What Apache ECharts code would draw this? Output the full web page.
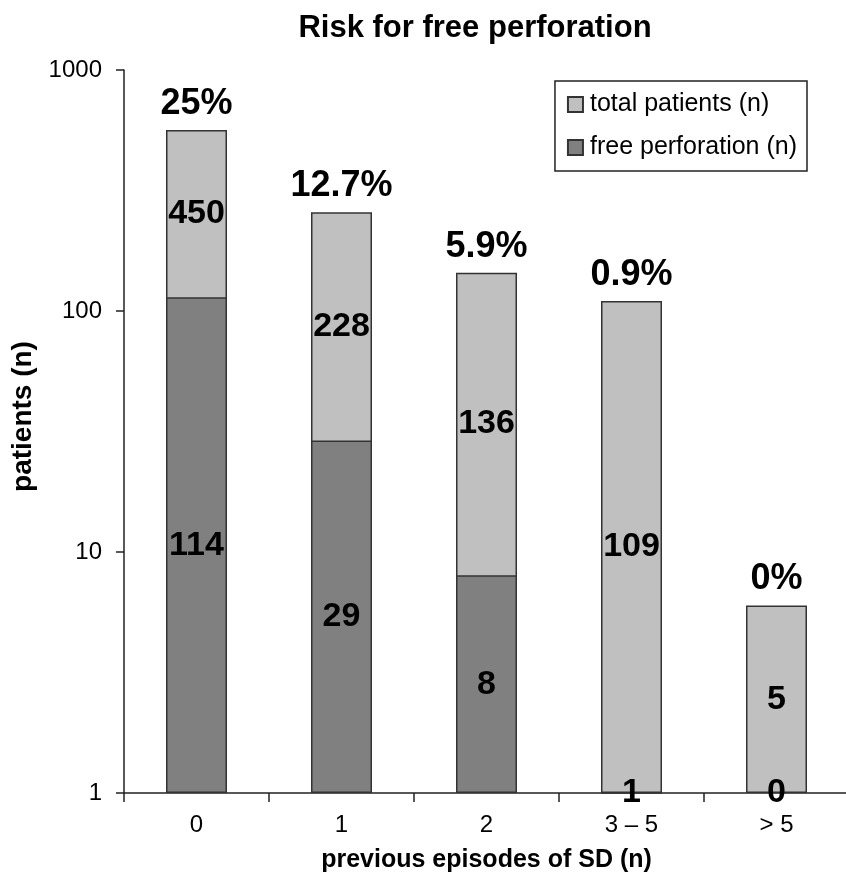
<!DOCTYPE html>
<html>
<head>
<meta charset="utf-8">
<script src="https://cdn.jsdelivr.net/npm/echarts@6/dist/echarts.min.js"></script>
<style>
html,body{margin:0;padding:0;background:#fff;}
#chart{width:846px;height:874px;}
</style>
</head>
<body>
<div id="chart"></div>
<script>
var categories = ['0', '1', '2', '3 – 5', '> 5'];
var totalPatients = [564, 257, 144, 110, 6];
var freePerforation = [114, 29, 8, 1, 0];
var nonPerforatedLabels = ['450', '228', '136', '109', '5'];
var perforatedLabels = ['114', '29', '8', '1', '0'];
var riskLabels = ['25%', '12.7%', '5.9%', '0.9%', '0%'];
var yTicks = [1, 10, 100, 1000];

var FONT = '"Liberation Sans", Arial, sans-serif';

// label anchor points at the visual (log) centre of each segment
var upperLabelPts = categories.map(function (c, i) {
  var lo = Math.max(freePerforation[i], 1);
  return { value: [i, Math.sqrt(lo * totalPatients[i])], label: { formatter: nonPerforatedLabels[i] } };
});
var lowerLabelPts = categories.map(function (c, i) {
  var lo = Math.max(freePerforation[i], 1);
  return { value: [i, Math.sqrt(lo)], label: { formatter: perforatedLabels[i] } };
});

var chart = echarts.init(document.getElementById('chart'), null, { renderer: 'canvas' });
chart.setOption({
  animation: false,
  backgroundColor: '#ffffff',
  textStyle: { fontFamily: FONT },
  title: {
    text: 'Risk for free perforation',
    left: 470, top: 8, textAlign: 'center',
    textStyle: { fontFamily: FONT, fontSize: 31, fontWeight: 'bold', color: '#000' }
  },
  legend: {
    orient: 'vertical',
    right: 39, top: 81,
    data: ['total patients (n)', 'free perforation (n)'],
    icon: 'rect',
    itemWidth: 15, itemHeight: 15,
    itemGap: 18,
    padding: [11, 10, 11, 12],
    borderColor: '#222', borderWidth: 1.5,
    textStyle: { fontFamily: FONT, fontSize: 25, color: '#000', padding: [0, 0, 0, 2] },
    selectedMode: false
  },
  grid: { left: 124, right: -3, top: 70, bottom: 81, containLabel: false, outerBoundsMode: 'none' },
  xAxis: {
    type: 'category',
    data: categories,
    name: 'previous episodes of SD (n)',
    nameLocation: 'middle',
    nameGap: 55,
    nameTextStyle: { fontFamily: FONT, fontSize: 25, fontWeight: 'bold', color: '#000' },
    axisLine: { lineStyle: { color: '#222', width: 1.5 } },
    axisTick: { show: true, length: 9, alignWithLabel: false, lineStyle: { color: '#222', width: 1.5 } },
    axisLabel: { fontFamily: FONT, fontSize: 24, color: '#000', margin: 20 },
    splitLine: { show: false }
  },
  yAxis: {
    type: 'log',
    logBase: 10,
    min: yTicks[0], max: yTicks[yTicks.length - 1],
    name: 'patients (n)',
    nameLocation: 'middle',
    nameGap: 78,
    nameTextStyle: { fontFamily: FONT, fontSize: 28, fontWeight: 'bold', color: '#000', padding: [0, 0, 0, 30] },
    axisLine: { show: true, lineStyle: { color: '#222', width: 1.5 } },
    axisTick: { show: true, length: 8, lineStyle: { color: '#222', width: 1.5 } },
    minorTick: { show: false },
    axisLabel: {
      fontFamily: FONT, fontSize: 24, color: '#000', margin: 22,
      formatter: function (v) { return String(v); }
    },
    splitLine: { show: false }
  },
  series: [
    {
      name: 'total patients (n)',
      type: 'bar',
      data: totalPatients,
      barWidth: 61,
      itemStyle: { color: '#c0c0c0', borderColor: '#333', borderWidth: 1.5 },
      label: {
        show: true, position: 'top', distance: 8,
        formatter: function (p) { return riskLabels[p.dataIndex]; },
        fontFamily: FONT, fontSize: 36, fontWeight: 'bold', color: '#000'
      },
      z: 2
    },
    {
      name: 'free perforation (n)',
      type: 'bar',
      data: freePerforation.map(function (v) { return v > 0 ? v : '-'; }),
      barWidth: 61,
      barGap: '-100%',
      itemStyle: { color: '#808080', borderColor: '#333', borderWidth: 1.5 },
      z: 3
    },
    {
      type: 'scatter',
      data: upperLabelPts.concat(lowerLabelPts),
      symbolSize: 0,
      silent: true,
      itemStyle: { color: '#000', opacity: 1 },
      label: {
        show: true, position: 'inside',
        fontFamily: FONT, fontSize: 34, fontWeight: 'bold', color: '#000'
      },
      z: 5
    }
  ]
});
</script>
</body>
</html>
